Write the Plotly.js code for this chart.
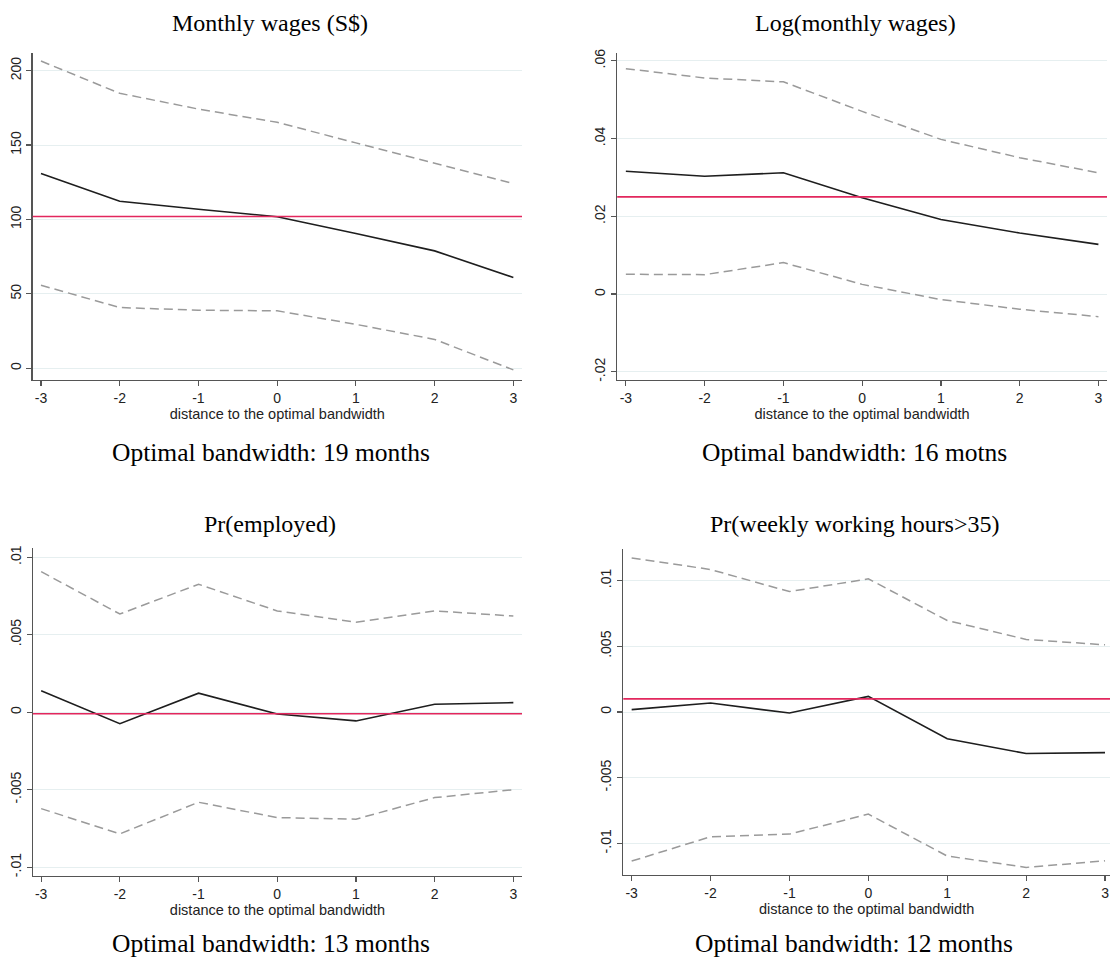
<!DOCTYPE html>
<html>
<head>
<meta charset="utf-8">
<script src="https://cdn.plot.ly/plotly-3.0.1.min.js"></script>
<style>
  html, body { margin: 0; padding: 0; background: #ffffff; }
  #chart { width: 1110px; height: 960px; }
</style>
</head>
<body>
<div id="chart"></div>
<script>
// ---- data ----
const distance = [-3, -2, -1, 0, 1, 2, 3];
const xTickLabels = ["-3", "-2", "-1", "0", "1", "2", "3"];

const wageEst   = [130.9, 112.3, 106.9, 101.8, 90.6, 78.9, 61.0];
const wageUpper = [206.5, 184.8, 174.2, 165.3, 151.5, 138.1, 124.2];
const wageLower = [55.8, 40.8, 39.0, 38.6, 29.5, 19.4, -1.1];
const wageRef   = 102;

const logEst   = [0.0316, 0.0303, 0.0312, 0.0248, 0.0192, 0.0157, 0.0128];
const logUpper = [0.0580, 0.0556, 0.0546, 0.0470, 0.0398, 0.0351, 0.0312];
const logLower = [0.0051, 0.0050, 0.0081, 0.0025, -0.0014, -0.0039, -0.0058];
const logRef   = 0.0250;

const empEst   = [0.00139, -0.00074, 0.00123, -0.00011, -0.00056, 0.00052, 0.00062];
const empUpper = [0.00907, 0.00634, 0.00826, 0.00654, 0.00581, 0.00654, 0.00621];
const empLower = [-0.00622, -0.00785, -0.00581, -0.00680, -0.00690, -0.00551, -0.00500];
const empRef   = -0.0001;

const hrsEst   = [0.00018, 0.00068, -0.00008, 0.00119, -0.00203, -0.00316, -0.00309];
const hrsUpper = [0.01172, 0.01084, 0.00916, 0.01013, 0.00696, 0.00552, 0.00511];
const hrsLower = [-0.01134, -0.00949, -0.00929, -0.00777, -0.01096, -0.01182, -0.01132];
const hrsRef   = 0.0010;

const wageTickVals = [0, 50, 100, 150, 200];
const wageTickText = ["0", "50", "100", "150", "200"];
const logTickVals = [-0.02, 0, 0.02, 0.04, 0.06];
const logTickText = ["-.02", "0", ".02", ".04", ".06"];
const smallTickVals = [-0.01, -0.005, 0, 0.005, 0.01];
const smallTickText = ["-.01", "-.005", "0", ".005", ".01"];

const panelTitles = ["Monthly wages (S$)", "Log(monthly wages)", "Pr(employed)", "Pr(weekly working hours>35)"];
const panelCaptions = ["Optimal bandwidth: 19 months", "Optimal bandwidth: 16 motns",
                       "Optimal bandwidth: 13 months", "Optimal bandwidth: 12 months"];
const xAxisTitle = "distance to the optimal bandwidth";

// ---- styling / layout helpers ----
const W = 1110, H = 960;
const px = v => v / W;
const py = v => 1 - v / H;

const panels = [
  { est: wageEst, up: wageUpper, lo: wageLower, ref: wageRef, tv: wageTickVals, tt: wageTickText,
    dom: [32.7, 522, 52.7, 380], xr: [-3.105, 3.11], yr: [-7.9, 212.1],
    title: [270, 23], cap: [271, 452] },
  { est: logEst, up: logUpper, lo: logLower, ref: logRef, tv: logTickVals, tt: logTickText,
    dom: [617.2, 1107, 52.7, 380], xr: [-3.11, 3.109], yr: [-0.0221, 0.0621],
    title: [855, 23], cap: [854, 452] },
  { est: empEst, up: empUpper, lo: empLower, ref: empRef, tv: smallTickVals, tt: smallTickText,
    dom: [32.9, 522, 548.3, 875.7], xr: [-3.105, 3.11], yr: [-0.01055, 0.01058],
    title: [270, 524], cap: [271, 943] },
  { est: hrsEst, up: hrsUpper, lo: hrsLower, ref: hrsRef, tv: smallTickVals, tt: smallTickText,
    dom: [623.3, 1110, 549, 875], xr: [-3.106, 3.063], yr: [-0.0124, 0.0124],
    title: [855, 524], cap: [854, 943] }
];

const tickFont = { family: "Liberation Sans, Arial, sans-serif", size: 14, color: "#222222" };
const serifFont = { family: "Liberation Serif, Times New Roman, serif", color: "#000000" };

const traces = [];
const layout = {
  width: W, height: H,
  margin: { l: 0, r: 0, t: 0, b: 0, pad: 0 },
  paper_bgcolor: "#ffffff",
  plot_bgcolor: "#ffffff",
  showlegend: false,
  shapes: [],
  annotations: []
};

panels.forEach((p, i) => {
  const n = i + 1;
  const xa = "x" + (n === 1 ? "" : n);
  const ya = "y" + (n === 1 ? "" : n);
  const xk = "xaxis" + (n === 1 ? "" : n);
  const yk = "yaxis" + (n === 1 ? "" : n);

  traces.push({ x: distance, y: p.up, xaxis: xa, yaxis: ya, type: "scatter", mode: "lines",
    line: { color: "#9a9a9a", width: 1.5, dash: "9px,5px" }, hoverinfo: "skip" });
  traces.push({ x: distance, y: p.lo, xaxis: xa, yaxis: ya, type: "scatter", mode: "lines",
    line: { color: "#9a9a9a", width: 1.5, dash: "9px,5px" }, hoverinfo: "skip" });
  traces.push({ x: distance, y: p.est, xaxis: xa, yaxis: ya, type: "scatter", mode: "lines",
    line: { color: "#1e1e1e", width: 1.6 }, hoverinfo: "skip" });

  layout[xk] = {
    domain: [px(p.dom[0]), px(p.dom[1])],
    anchor: ya,
    range: p.xr,
    tickmode: "array", tickvals: distance, ticktext: xTickLabels,
    ticks: "outside", ticklen: 5, tickwidth: 1.2, tickcolor: "#555555",
    showline: true, linecolor: "#555555", linewidth: 1.3,
    showgrid: false, zeroline: false,
    tickfont: tickFont,
    title: { text: xAxisTitle, font: { family: tickFont.family, size: 14.5, color: "#222222" }, standoff: 0 }
  };
  layout[yk] = {
    domain: [py(p.dom[3]), py(p.dom[2])],
    anchor: xa,
    range: p.yr,
    tickmode: "array", tickvals: p.tv, ticktext: p.tt,
    tickangle: -90,
    ticks: "outside", ticklen: 5, tickwidth: 1.2, tickcolor: "#555555",
    showline: true, linecolor: "#555555", linewidth: 1.3,
    showgrid: true, gridcolor: "#e6eff0", gridwidth: 1,
    zeroline: false,
    tickfont: tickFont
  };

  layout.shapes.push({
    type: "line", xref: xa + " domain", yref: ya,
    x0: 0, x1: 1, y0: p.ref, y1: p.ref,
    line: { color: "#e2275d", width: 1.6 }, layer: "above"
  });

  layout.annotations.push({
    text: panelTitles[i], xref: "paper", yref: "paper",
    x: px(p.title[0]), y: py(p.title[1]), xanchor: "center", yanchor: "middle",
    showarrow: false, font: Object.assign({ size: 24 }, serifFont)
  });
  layout.annotations.push({
    text: panelCaptions[i], xref: "paper", yref: "paper",
    x: px(p.cap[0]), y: py(p.cap[1]), xanchor: "center", yanchor: "middle",
    showarrow: false, font: Object.assign({ size: 25.5 }, serifFont)
  });
});

Plotly.newPlot("chart", traces, layout, { staticPlot: true, displayModeBar: false });
</script>
</body>
</html>
